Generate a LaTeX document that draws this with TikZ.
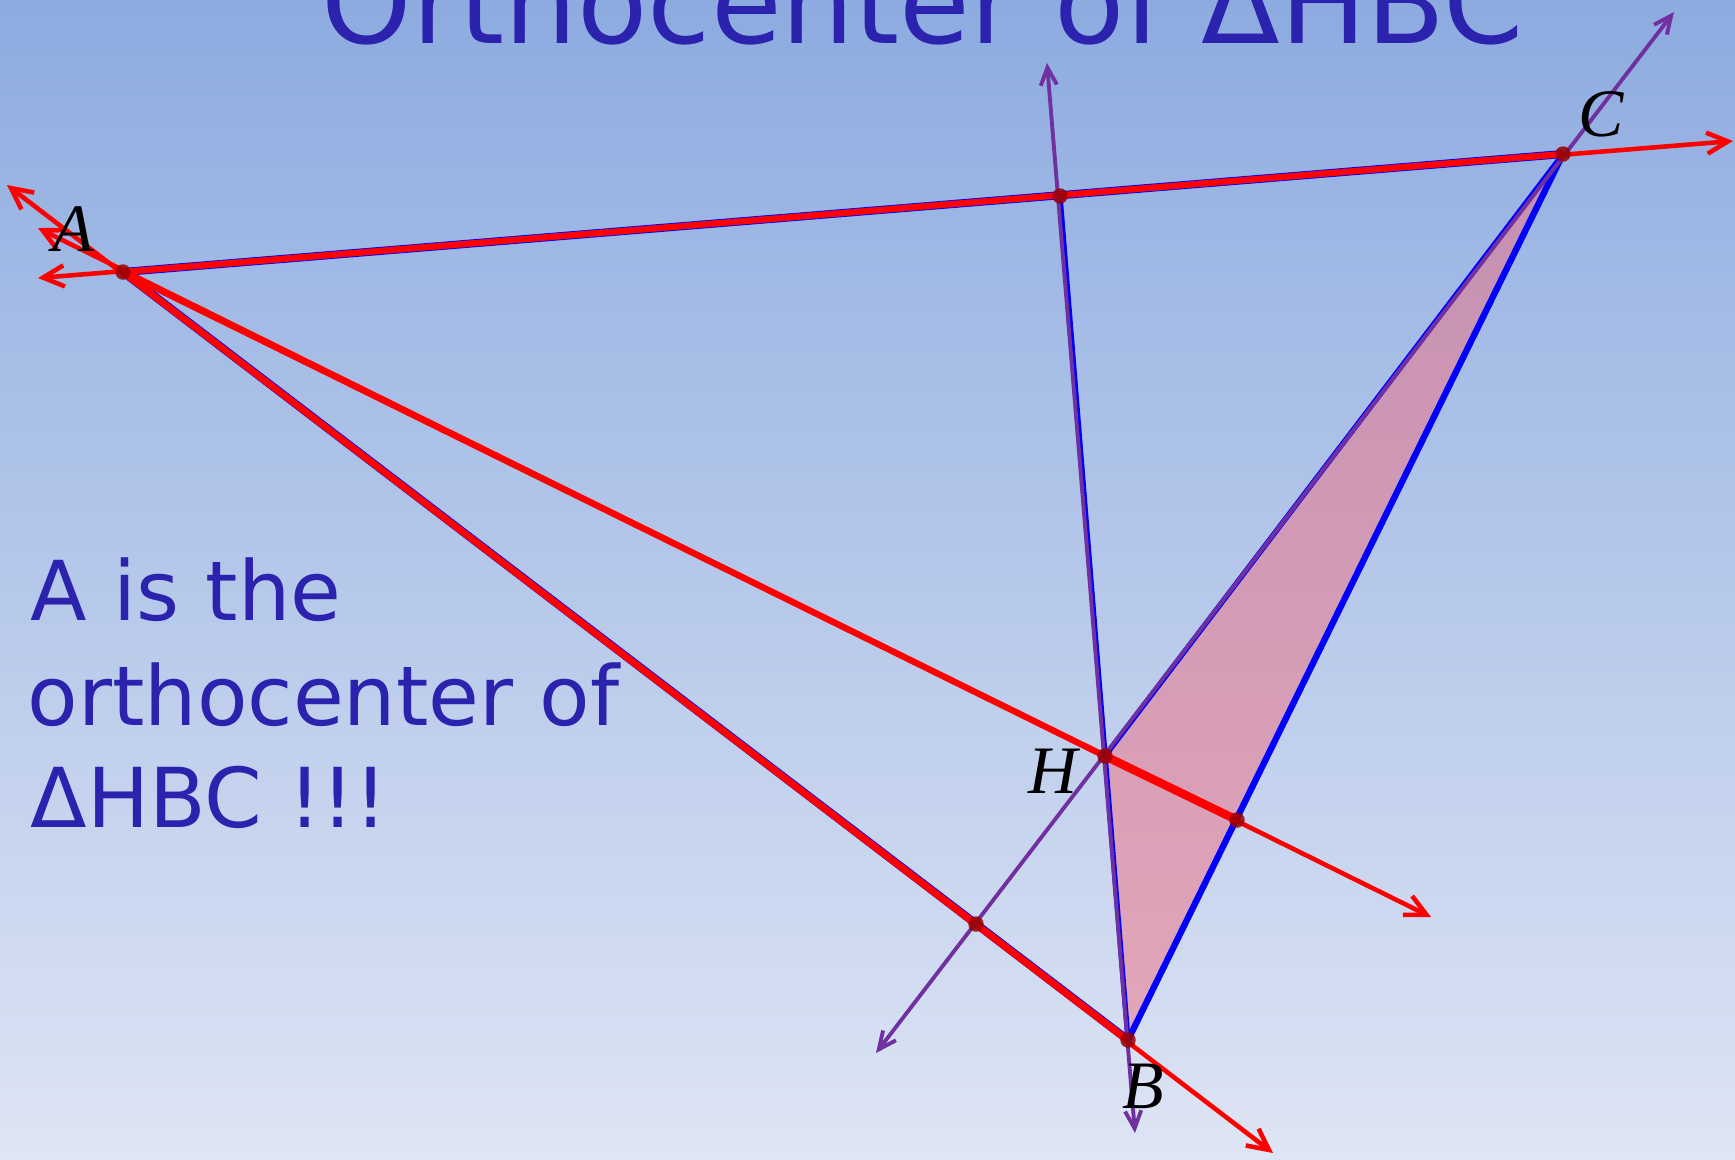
\documentclass[tikz,border=0pt]{standalone}
\usepackage{fontspec}
\setmainfont{Liberation Serif}
\newfontfamily\slidefont{DejaVu Sans}
\usetikzlibrary{arrows.meta}

\definecolor{bgtop}{RGB}{141,171,224}
\definecolor{bgbot}{RGB}{222,229,244}
\definecolor{ink}{RGB}{43,34,174}
\definecolor{altpurple}{RGB}{112,48,160}
\definecolor{pinkfill}{RGB}{240,110,130}

\tikzset{
  redbarb/.tip={Straight Barb[length=6pt,width=6pt]},
  purpbarb/.tip={Straight Barb[length=5pt,width=4.6pt]},
}

\begin{document}
\begin{tikzpicture}[x=0.01cm, y=-0.01cm,
    side/.style={blue, line width=2.3pt},
    redline/.style={red, line width=1.3pt, redbarb-redbarb},
    redseg/.style={red, line width=1.8pt},
    altline/.style={altpurple, line width=1.1pt, purpbarb-purpbarb},
    vertex/.style={fill=red!60!black, fill opacity=0.85},
    ptlabel/.style={font=\fontsize{19.3}{23}\selectfont\itshape, inner sep=0pt},
    slidetext/.style={ink, inner sep=0pt, anchor=base west,
      font=\slidefont\fontsize{23.5}{28}\selectfont}]
    \useasboundingbox (0,0) rectangle (1735,1159);
    \clip (0,0) rectangle (1735,1159);
    % Фон
    \fill[top color=bgtop, bottom color=bgbot] (0,0) rectangle (1735,1159);
    % Точки
    \coordinate (A) at (123,272);
    \coordinate (B) at (1128,1040);
    \coordinate (C) at (1563,154);
    \coordinate (H) at (1105,756);
    \coordinate (fAC) at (1060,196);
    \coordinate (fAB) at (976,924);
    \coordinate (fBC) at (1237,820);
    % Концы прямых
    \coordinate (acL) at (38,278);
    \coordinate (acR) at (1733,141);
    \coordinate (abL) at (7,185);
    \coordinate (abR) at (1273,1153);
    \coordinate (ahL) at (38,228);
    \coordinate (ahR) at (1431,917);
    \coordinate (bhT) at (1047,63);
    \coordinate (bhB) at (1135,1133);
    \coordinate (chT) at (1674,12);
    \coordinate (chB) at (876,1053);
    % Треугольник HBC
    \fill[pinkfill, fill opacity=0.5] (H) -- (B) -- (C) -- cycle;
    \draw[side] (A) -- (B) (A) -- (C);
    \draw[blue, line width=1.8pt] (B) -- (C);
    \draw[blue, line width=1.5pt] (C) -- (H) (fAC) -- (B);
    % Красные прямые
    \draw[redline] (acL) -- (acR);
    \draw[redline] (abL) -- (abR);
    \draw[redline] (ahL) -- (ahR);
    \draw[redseg] (A) -- (C) (A) -- (B) (A) -- (H);
    \draw[red, line width=2.4pt] (H) -- (fBC);
    % Высоты
    \draw[altline] (bhT) -- (bhB);
    \draw[altline] (chT) -- (chB);
    \foreach \p in {A,B,C,H,fAC,fAB,fBC}
        \fill[vertex] (\p) circle (2.2pt);
    % Подписи
    \node[ptlabel] (labA) at (73,229) {A};
    \node[ptlabel] (labC) at (1601,114) {C};
    \node[ptlabel] (labH) at (1053,771) {H};
    \node[ptlabel] (labB) at (1143,1086) {B};
    % Текст
    \node[ink, inner sep=0pt, anchor=base west,
      font=\slidefont\fontsize{32.7}{39}\selectfont] (title) at (321,43) {Orthocenter of ΔHBC};
    \node[slidetext] (line1) at (30,620) {A is the};
    \node[slidetext] (line2) at (27,725) {orthocenter of};
    \node[slidetext] (line3) at (30,827) {ΔHBC !!!};
\end{tikzpicture}
\end{document}
